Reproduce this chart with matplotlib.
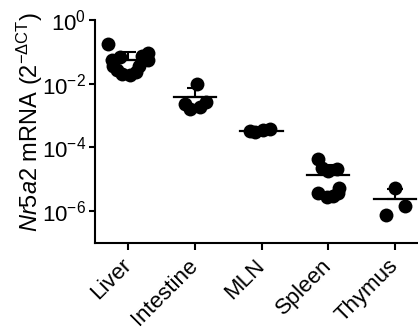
import matplotlib

matplotlib.use("Agg")
import matplotlib.pyplot as plt
import numpy as np


tissues = ["Liver", "Intestine", "MLN", "Spleen", "Thymus"]

# relative expression values (2^-dCT)
liver = [0.182, 0.055, 0.035, 0.091, 0.072, 0.055, 0.035, 0.020, 0.0186, 0.023, 0.068, 0.026]
liver_dx = [-0.30, -0.24, -0.23, 0.30, 0.21, 0.30, 0.17, -0.09, 0.03, 0.12, -0.12, -0.17]
intestine = [0.0101, 0.0023, 0.0016, 0.0019, 0.0026]
intestine_dx = [0.03, -0.15, -0.07, 0.08, 0.17]
mln = [3.3e-4, 3.0e-4, 3.5e-4, 3.7e-4]
mln_dx = [-0.175, -0.10, 0.025, 0.125]
spleen = [4.34e-5, 2.25e-5, 1.77e-5, 2.1e-5, 3.8e-6, 2.7e-6, 3.0e-6, 5.5e-6, 3.8e-6]
spleen_dx = [-0.16, -0.10, 0.0, 0.125, -0.15, -0.02, 0.075, 0.16, 0.14]
thymus = [5.2e-6, 1.4e-6, 7.6e-7]
thymus_dx = [0.0, 0.15, -0.14]

groups = [liver, intestine, mln, spleen, thymus]
offsets = [liver_dx, intestine_dx, mln_dx, spleen_dx, thymus_dx]

plt.rcParams["font.family"] = ["Liberation Sans", "DejaVu Sans"]
plt.rcParams["mathtext.fontset"] = "custom"
plt.rcParams["mathtext.rm"] = "Liberation Sans"
plt.rcParams["mathtext.it"] = "Liberation Sans:italic"

fig = plt.figure(figsize=(4.18, 3.31), dpi=100)
ax = fig.add_axes([0.2266, 0.2659, 0.798, 0.6737])

for i, (vals, dx) in enumerate(zip(groups, offsets)):
    vals = np.array(vals)
    mean = vals.mean()
    sd = vals.std(ddof=1)
    ax.plot([i - 0.315, i + 0.315], [mean, mean], color="black", lw=1.6, zorder=2)
    ax.errorbar(i, mean, yerr=[[0], [sd]], color="black", elinewidth=1.5,
                capsize=6, capthick=1.5, zorder=2)
    ax.scatter(i + np.array(dx), vals, s=100, color="black", zorder=3, linewidths=0)

ax.set_yscale("log")
ax.set_ylim(1e-7, 1)
ax.set_xlim(-0.5, 4.5)
ax.set_yticks([1, 1e-2, 1e-4, 1e-6])
ax.set_yticklabels([r"$\mathregular{10^{0}}$", r"$\mathregular{10^{-2}}$",
                    r"$\mathregular{10^{-4}}$", r"$\mathregular{10^{-6}}$"])
ax.minorticks_off()
ax.set_xticks(range(len(tissues)))
ax.set_xticklabels(tissues, rotation=45, ha="right", va="center", rotation_mode="anchor")

ax.tick_params(axis="y", labelsize=16, length=4, width=1.5, pad=2)
ax.tick_params(axis="x", labelsize=16, length=5, width=1.5, pad=9)
for side in ["top", "right"]:
    ax.spines[side].set_visible(False)
for side in ["left", "bottom"]:
    ax.spines[side].set_linewidth(1.5)

ax.set_ylabel(r"$\mathit{Nr5a2}$ mRNA (2$^{\mathregular{-ΔCT}}$)", fontsize=17)
ax.yaxis.set_label_coords(-0.15, 0.545)

fig.savefig("out.png", dpi=100)
